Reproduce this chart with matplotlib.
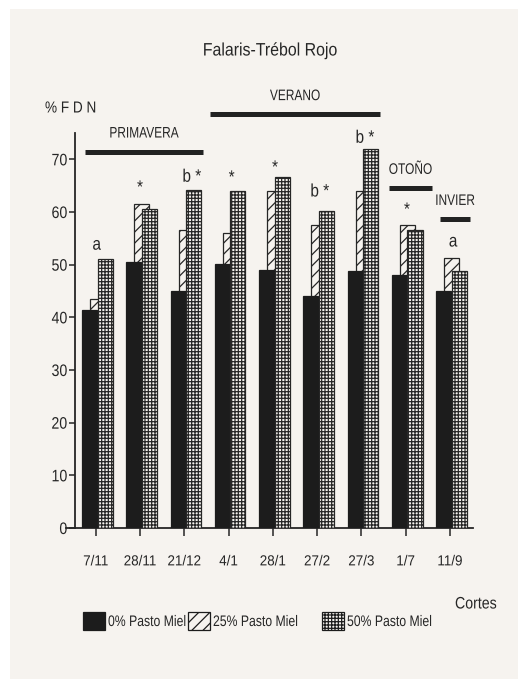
import matplotlib
matplotlib.use("Agg")
import matplotlib.pyplot as plt
from matplotlib.patches import Rectangle
from matplotlib.patheffects import AbstractPathEffect
from matplotlib.transforms import Affine2D
import numpy as np

plt.rcParams["font.family"] = ["Liberation Sans", "DejaVu Sans"]
plt.rcParams["hatch.linewidth"] = 0.9

# --- data -------------------------------------------------------------
cortes = ["7/11", "28/11", "21/12", "4/1", "28/1", "27/2", "27/3", "1/7", "11/9"]
fdn_0 = [41.3, 50.6, 45.0, 50.1, 49.0, 44.0, 48.8, 48.0, 45.0]
fdn_25 = [43.4, 61.5, 56.6, 56.0, 63.9, 57.5, 64.0, 57.5, 51.2]
fdn_50 = [51.0, 60.6, 64.2, 63.9, 66.7, 60.2, 72.0, 56.6, 48.8]
signif = ["a", "*", "b *", "*", "*", "b *", "b *", "*", "a"]
y_ticks = [0, 10, 20, 30, 40, 50, 60, 70]
series_names = ["0% Pasto Miel", "25% Pasto Miel", "50% Pasto Miel"]

# season spans: (label, first cut, last cut)
seasons = [("PRIMAVERA", 0, 2), ("VERANO", 3, 6), ("OTOÑO", 7, 7), ("INVIER", 8, 8)]


class Condense(AbstractPathEffect):
    """Narrow the glyphs horizontally about the text anchor."""

    def __init__(self, sx=0.82, anchor="center"):
        super().__init__()
        self.sx = sx
        self.anchor = anchor

    def draw_path(self, renderer, gc, tpath, affine, rgbFace=None):
        verts = tpath.vertices
        if len(verts):
            xs = affine.transform(verts)[:, 0]
            if self.anchor == "left":
                x0 = xs.min()
            elif self.anchor == "right":
                x0 = xs.max()
            else:
                x0 = 0.5 * (xs.min() + xs.max())
            affine = affine + Affine2D().translate(-x0, 0).scale(self.sx, 1).translate(x0, 0)
        renderer.draw_path(gc, tpath, affine, rgbFace)


def narrow(sx=0.82, anchor="center"):
    return [Condense(sx, anchor)]


# --- figure -----------------------------------------------------------
W, H = 518, 679
BG = "#f6f3ef"
INK = "#262626"
fig = plt.figure(figsize=(W / 100, H / 100), dpi=100, facecolor=BG)

def fpos(x, y):
    return x / W, 1 - y / H

# white page margins of the scan
fig.add_artist(Rectangle((0, 1 - 9 / H), 1, 9 / H, transform=fig.transFigure,
                         facecolor="white", edgecolor="none", zorder=0))
fig.add_artist(Rectangle((0, 0), 10 / W, 1, transform=fig.transFigure,
                         facecolor="white", edgecolor="none", zorder=0))

left, right = 75, 473
bottom, top = 528, 133
ax = fig.add_axes([left / W, 1 - bottom / H, (right - left) / W, (bottom - top) / H])
ax.set_facecolor("none")

x = np.arange(len(cortes))
width = 0.34
ax.bar(x + 0.04, fdn_25, width, facecolor=BG, edgecolor=INK, hatch="///",
       linewidth=0.9, zorder=2)
ax.bar(x - 0.14, fdn_0, width, facecolor="#1c1c1c", edgecolor="#1c1c1c",
       linewidth=0.9, zorder=3)
ax.bar(x + 0.21, fdn_50, width, facecolor=BG, edgecolor=INK, hatch="+++++",
       linewidth=0.9, zorder=3)

ax.set_xlim(-0.47, 8.52)
ax.set_ylim(0, 75)
for s in ["top", "right"]:
    ax.spines[s].set_visible(False)
for s in ["left", "bottom"]:
    ax.spines[s].set_color(INK)
    ax.spines[s].set_linewidth(1.3)
ax.plot([-0.67, -0.47], [0, 0], color=INK, lw=1.3, clip_on=False, zorder=4)

ax.set_yticks(y_ticks)
ax.set_yticklabels([str(v) for v in y_ticks], fontsize=12, color=INK)
ax.tick_params(axis="y", direction="out", length=4, width=1.1, color=INK, pad=1.5)
for t in ax.get_yticklabels():
    t.set_path_effects(narrow(0.85, "right"))
ax.set_xticks(x)
ax.set_xticklabels(cortes, fontsize=10.5, color=INK)
ax.tick_params(axis="x", direction="out", length=6, width=1.1, color=INK, pad=13)
for t in ax.get_xticklabels():
    t.set_path_effects(narrow(0.92, "center"))

# significance marks above each cut
sig_dx = [0.02, 0.0, 0.17, 0.07, 0.05, 0.06, 0.08, 0.03, 0.07]
sig_y = [53.7, 64.5, 66.6, 66.4, 68.3, 63.8, 74.0, 60.3, 54.3]
for i, (lab, dx, yy) in enumerate(zip(signif, sig_dx, sig_y)):
    ax.text(i + dx, yy, lab, ha="center", va="center", fontsize=13,
            color=INK, clip_on=False, path_effects=narrow(0.85))

# season bars and names
season_lines = {"PRIMAVERA": (-0.25, 2.42, 71.3, 74.9),
                "VERANO": (2.58, 6.42, 78.7, 82.0),
                "OTOÑO": (6.62, 7.6, 64.5, 68.0),
                "INVIER": (7.78, 8.45, 58.6, 62.1)}
for name, i0, i1 in seasons:
    x0, x1, yl, yt = season_lines[name]
    ax.plot([x0, x1], [yl, yl], color="#222222", lw=3.6, clip_on=False,
            solid_capstyle="butt")
    ax.text((x0 + x1) / 2, yt, name, ha="center", va="center", fontsize=11,
            color=INK, clip_on=False, path_effects=narrow(0.78))

# titles
fig.text(*fpos(270, 51), "Falaris-Trébol Rojo", ha="center", va="center",
         fontsize=13, color=INK, path_effects=narrow(0.88))
fig.text(*fpos(45, 108), "% F D N", ha="left", va="center", fontsize=11.5,
         color=INK, path_effects=narrow(0.85, "left"))
fig.text(*fpos(455, 604), "Cortes", ha="left", va="center", fontsize=12,
         color=INK, path_effects=narrow(0.85, "left"))

# legend
sw = [(83, "#1c1c1c", None), (188, BG, "///"), (322, BG, "+++++")]
for (sx, fc, hat), name in zip(sw, series_names):
    x0, y0 = fpos(sx, 630)
    fig.add_artist(Rectangle((x0, y0), 22 / W, 18 / H, transform=fig.transFigure,
                             facecolor=fc, edgecolor="#1c1c1c", hatch=hat,
                             linewidth=0.9))
    fig.text(*fpos(sx + 25, 622), name, ha="left", va="center", fontsize=11,
             color=INK, path_effects=narrow(0.8, "left"))

fig.savefig("out.png", dpi=100, facecolor=BG)
